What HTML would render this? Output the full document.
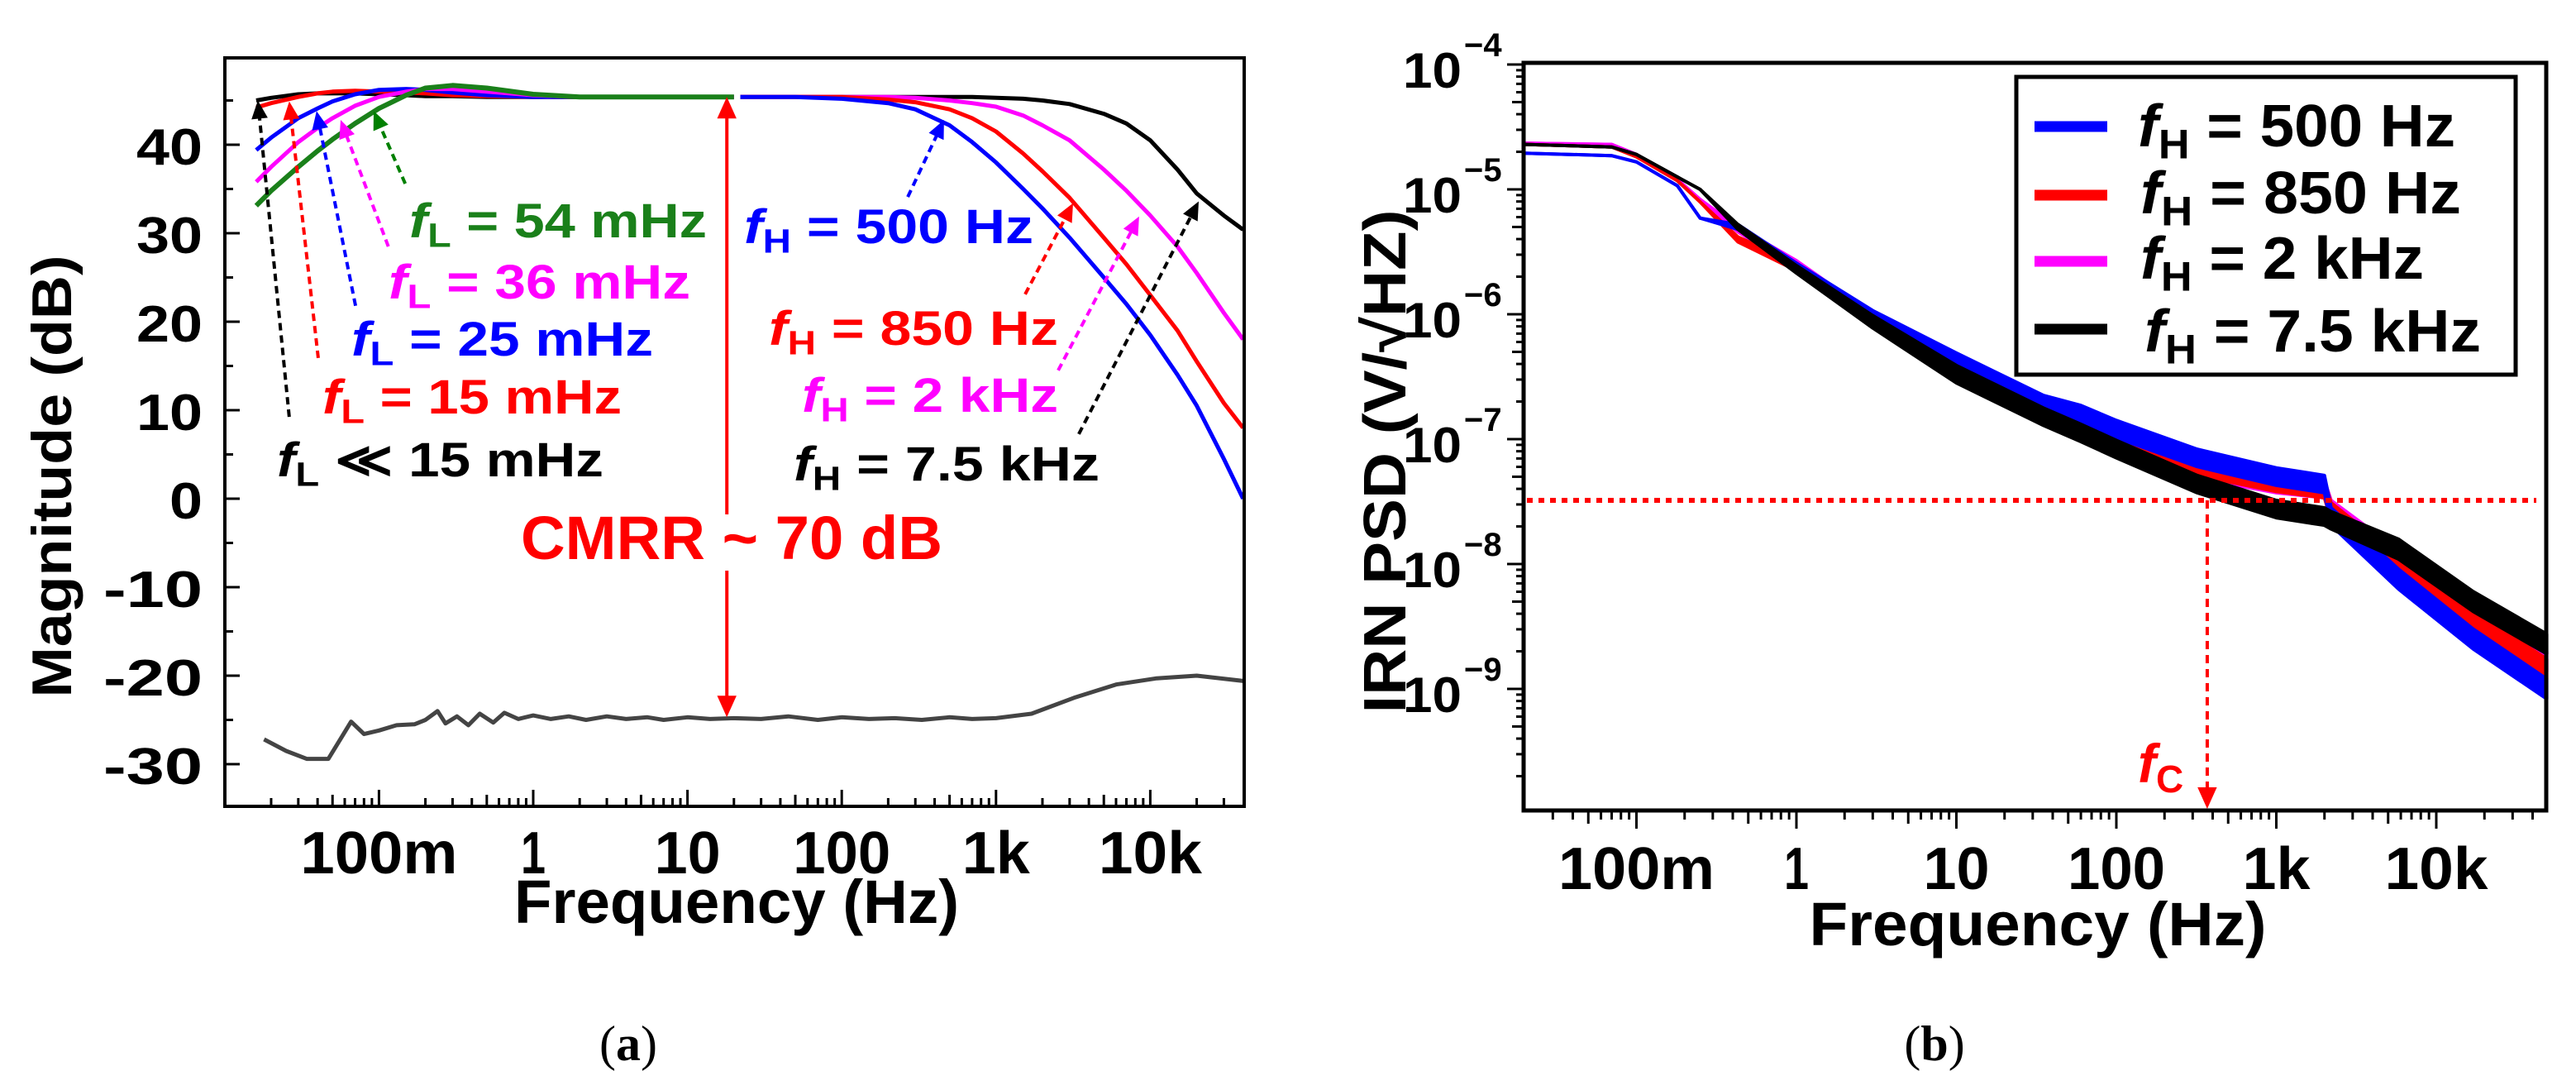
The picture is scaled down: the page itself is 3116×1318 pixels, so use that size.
<!DOCTYPE html>
<html><head><meta charset="utf-8"><style>
html,body{margin:0;padding:0;background:#fff;}
svg{display:block;}
</style></head><body>
<svg id="fig" xmlns="http://www.w3.org/2000/svg" width="3116" height="1318" viewBox="0 0 3116 1318">
<rect x="0" y="0" width="3116" height="1318" fill="#fff"/>
<g id="plotA"></g>
<g id="plotB"></g>
</svg>
<script>
// ===== Panel (a) data =====
const lowFreqs = [0.016,0.02,0.03,0.04,0.05,0.07,0.1,0.15,0.2,0.3,0.5,1,2,5,20];
const lowBlack   = [45.0,45.3,45.7,45.8,45.8,45.8,45.7,45.6,45.5,45.5,45.4,45.4,45.4,45.4,45.4];
const lowRed     = [44.2,44.7,45.4,45.8,46.0,46.1,46.0,45.9,45.8,45.6,45.5,45.4,45.4,45.4,45.4];
const lowBlue    = [39.4,40.8,43.0,44.1,44.9,45.7,46.2,46.3,46.2,45.9,45.6,45.4,45.4,45.4,45.4];
const lowMagenta = [35.8,37.5,40.3,41.9,43.0,44.4,45.4,46.0,46.3,46.3,46.0,45.6,45.4,45.4,45.4];
const lowGreen   = [33.1,34.8,37.5,39.3,40.6,42.4,44.1,45.6,46.4,46.7,46.4,45.7,45.4,45.4,45.4];
const highFreqs = [22,50,100,200,300,500,700,1000,1500,2000,3000,5000,7000,10000,15000,20000,30000,40000];
const highBlue    = [45.4,45.4,45.2,44.7,44.0,42.2,40.3,38.0,35.0,32.8,29.5,25.0,22.0,18.5,14.0,10.5,4.5,0.0];
const highRed     = [45.4,45.4,45.4,45.1,44.8,44.0,43.0,41.5,39.0,37.0,34.0,29.5,26.5,23.0,19.0,15.5,10.8,8.0];
const highMagenta = [45.4,45.4,45.4,45.4,45.3,45.0,44.7,44.3,43.3,42.2,40.5,37.2,34.8,32.0,28.5,25.5,21.0,18.0];
const highBlack   = [45.4,45.4,45.4,45.4,45.4,45.4,45.4,45.3,45.2,45.0,44.6,43.5,42.4,40.5,37.2,34.5,32.0,30.4];
const cmFreqs = [0.018,0.025,0.034,0.047,0.066,0.08,0.1,0.13,0.17,0.2,0.24,0.27,0.32,0.38,0.45,0.55,0.65,0.8,1,1.3,1.7,2.2,3,4,5.5,7,10,14,20,30,45,70,100,150,220,330,500,700,1000,1700,3200,6000,11000,20000,40000];
const cmValues = [-27.2,-28.5,-29.4,-29.4,-25.2,-26.6,-26.2,-25.6,-25.5,-25.0,-24.0,-25.4,-24.6,-25.6,-24.3,-25.3,-24.2,-24.9,-24.5,-24.9,-24.6,-25.0,-24.6,-24.9,-24.7,-25.0,-24.7,-24.9,-24.8,-24.9,-24.6,-25.0,-24.7,-24.9,-24.8,-25.0,-24.7,-24.9,-24.8,-24.3,-22.5,-21.0,-20.3,-20.0,-20.6];
const yTicksA = [-30,-20,-10,0,10,20,30,40];
const xTickValsA = [0.1,1,10,100,1000,10000];
const xTickLabelsA = ["100m","1","10","100","1k","10k"];
const annTailF = [0.0262,0.0404,0.0705,0.115,0.148,268,1545,2530,3440];
const annTailDb = [9.25,15.9,21.8,28.5,35.6,34.1,23.1,14.5,7.3];
const annHeadF = [0.0164,0.0262,0.0394,0.0564,0.0924,460,3160,8470,20600];
const annHeadDb = [45,44.9,43.8,42.8,43.8,42.8,33.4,31.9,33.6];
const annColors = ["#000","#ff0000","#0000ff","#ff00ff","#008000","#0000ff","#ff0000","#ff00ff","#000"];

// ===== Panel (b) data =====
const psdFreqs = [0.02,0.07,0.1,0.18,0.25,0.43,1,3,10,35,60,100,320,1000,2000,2200,5800,17000,49000];
const psdBlue    = [-4.71,-4.73,-4.78,-4.97,-5.23,-5.30,-5.62,-6.02,-6.38,-6.72,-6.80,-6.92,-7.15,-7.30,-7.36,-7.62,-8.12,-8.60,-9.00];
const psdRed     = [-4.64,-4.66,-4.74,-4.93,-5.10,-5.40,-5.62,-6.04,-6.42,-6.76,-6.86,-6.98,-7.22,-7.35,-7.40,-7.58,-8.02,-8.46,-8.84];
const psdMagenta = [-4.63,-4.64,-4.72,-4.92,-5.08,-5.32,-5.60,-6.05,-6.44,-6.80,-6.90,-7.00,-7.24,-7.36,-7.40,-7.56,-7.97,-8.40,-8.78];
const psdBlack   = [-4.64,-4.66,-4.72,-4.90,-5.00,-5.30,-5.64,-6.06,-6.48,-6.82,-6.95,-7.08,-7.36,-7.56,-7.62,-7.65,-7.88,-8.30,-8.64];
const noiseSpread = [0,0,0,0,0,0.02,0.03,0.05,0.07,0.07,0.07,0.07,0.07,0.07,0.07,0.07,0.08,0.08,0.08];
const yTickExpB = [-4,-5,-6,-7,-8,-9];
const xTickValsB = [0.1,1,10,100,1000,10000];
const xTickLabelsB = ["100m","1","10","100","1k","10k"];
const legendLabels = ["500 Hz","850 Hz","2 kHz","7.5 kHz"];
const cornerLevel = -7.49;
const cornerFreq = 370;

const NS = "http://www.w3.org/2000/svg";
const NARROW = "'Liberation Sans Narrow','Liberation Sans',sans-serif";
function mk(tag, attrs, parent){const e=document.createElementNS(NS,tag);for(const k in attrs)e.setAttribute(k,attrs[k]);parent.appendChild(e);return e;}
const A=document.getElementById('plotA');
const B=document.getElementById('plotB');

const xA = f => 645 + 186.6*Math.log10(f);
const yA = db => 603 - 10.7*db;
const AL=272, AR=1505, AT=70, AB=975;
function pathFrom(xs, ys, xf, yf){return xs.map((v,i)=>(i?'L':'M')+xf(v).toFixed(1)+','+yf(ys[i]).toFixed(1)).join(' ');}

const tickGA = mk('g',{},A);


for(let d=-2; d<=4; d++){
  for(let m=1;m<=9;m++){
    const f=m*Math.pow(10,d); const x=xA(f);
    if(x<AL+2||x>AR-2) continue;
    const len = m===1?20:(m===5?14:10);
    mk('line',{x1:x,y1:AB,x2:x,y2:AB-len,stroke:'#000','stroke-width':3},tickGA);
  }
}
for(let v=-35; v<=50; v+=5){
  const y=yA(v); if(y<AT+2||y>AB-2) continue;
  mk('line',{x1:AL,y1:y,x2:AL+(v%10===0?18:10),y2:y,stroke:'#000','stroke-width':3},tickGA);
}
yTicksA.forEach(v=>{
  const w = v<0 ? 120 : (v===0 ? 40 : 80);
  const t=mk('text',{x:245,y:yA(v)+24,'text-anchor':'end','font-family':NARROW,'font-weight':'bold','font-size':62,textLength:w,lengthAdjust:'spacingAndGlyphs'},A);
  
  
  t.textContent = v<0 ? '-'+Math.abs(v) : String(v);
});
xTickValsA.forEach((v,i)=>{
  const lab=xTickLabelsA[i];
  const w = [190,30,80,118,82,125][i];
  const t=mk('text',{x:xA(v),y:1056,'text-anchor':'middle','font-family':NARROW,'font-weight':'bold','font-size':72,textLength:w,lengthAdjust:'spacingAndGlyphs'},A);
  
  
  t.textContent=lab;
});
let tt=mk('text',{x:891,y:1116,'text-anchor':'middle','font-family':NARROW,'font-weight':'bold','font-size':74,textLength:538,lengthAdjust:'spacingAndGlyphs'},A);


tt.textContent='Frequency (Hz)';
tt=mk('text',{x:0,y:0,'text-anchor':'middle','font-family':"'Liberation Sans',sans-serif",'font-weight':'bold','font-size':68,textLength:535,lengthAdjust:'spacingAndGlyphs',transform:'translate(86,576) rotate(-90)'},A);


tt.textContent='Magnitude (dB)';

function curve(parent,xs,ys,color,name,w){
  const p=mk('path',{d:pathFrom(xs,ys,xA,yA),fill:'none',stroke:color,'stroke-width':w||5,'stroke-linejoin':'round'},parent);
  
  
}
curve(A,cmFreqs,cmValues,'#444','common-mode-gain-curve',5);
curve(A,highFreqs,highBlack,'#000','fh-7p5khz-curve');
curve(A,highFreqs,highMagenta,'#ff00ff','fh-2khz-curve');
curve(A,highFreqs,highRed,'#ff0000','fh-850hz-curve');
curve(A,highFreqs,highBlue,'#0000ff','fh-500hz-curve');
curve(A,lowFreqs,lowBlack,'#000','fl-below-15mhz-curve');
curve(A,lowFreqs,lowRed,'#ff0000','fl-15mhz-curve');
curve(A,lowFreqs,lowBlue,'#0000ff','fl-25mhz-curve');
curve(A,lowFreqs,lowMagenta,'#ff00ff','fl-36mhz-curve');
curve(A,lowFreqs,lowGreen,'#1a801a','fl-54mhz-curve',6);

function arrowHead(parent,x1,y1,x2,y2,color,size){
  const a=Math.atan2(y2-y1,x2-x1), s=size||20, w=s*0.45;
  const bx=x2-s*Math.cos(a), by=y2-s*Math.sin(a);
  const pts=[[x2,y2],[bx+w*Math.sin(a),by-w*Math.cos(a)],[bx-w*Math.sin(a),by+w*Math.cos(a)]];
  return mk('polygon',{points:pts.map(p=>p[0].toFixed(1)+','+p[1].toFixed(1)).join(' '),fill:color},parent);
}
annTailF.forEach((f,i)=>{
  const g=mk('g',{},A);
  
  
  const x1=xA(f),y1=yA(annTailDb[i]),x2=xA(annHeadF[i]),y2=yA(annHeadDb[i]);
  const a=Math.atan2(y2-y1,x2-x1);
  mk('line',{x1:x1,y1:y1,x2:x2-18*Math.cos(a),y2:y2-18*Math.sin(a),stroke:annColors[i],'stroke-width':4,'stroke-dasharray':'9 6'},g);
  arrowHead(g,x1,y1,x2,y2,annColors[i],22);
});
const cmx=xA(18);
const cg=mk('g',{},A);


mk('line',{x1:cmx,y1:yA(45.4)+22,x2:cmx,y2:622,stroke:'#ff0000','stroke-width':4},cg);
mk('line',{x1:cmx,y1:690,x2:cmx,y2:yA(-24.7)-22,stroke:'#ff0000','stroke-width':4},cg);
arrowHead(cg,cmx,400,cmx,yA(45.4),'#ff0000',26);
arrowHead(cg,cmx,400,cmx,yA(-24.7),'#ff0000',26);
tt=mk('text',{x:630,y:676,'font-family':NARROW,'font-weight':'bold','font-size':74,fill:'#ff0000',textLength:510,lengthAdjust:'spacingAndGlyphs'},A);


tt.textContent='CMRR ~ 70 dB';

function fLabel(parent,x,y,sub,rest,color,w,size,name){
  const t=mk('text',{x:x,y:y,'font-family':NARROW,'font-weight':'bold','font-size':size,fill:color,textLength:w,lengthAdjust:'spacingAndGlyphs'},parent);
  
  
  const s1=mk('tspan',{'font-style':'italic'},t); s1.textContent='f';
  const s2=mk('tspan',{'font-size':size*0.7,dy:size*0.2}, t); s2.textContent=sub;
  const s3=mk('tspan',{dy:-size*0.2},t); s3.textContent=rest;
  return t;
}
fLabel(A,495,287,'L',' = 54 mHz','#1a801a',360,58,'fl-54mhz-label');
fLabel(A,470,361,'L',' = 36 mHz','#ff00ff',365,58,'fl-36mhz-label');
fLabel(A,425,430,'L',' = 25 mHz','#0000ff',365,58,'fl-25mhz-label');
fLabel(A,390,500,'L',' = 15 mHz','#ff0000',362,58,'fl-15mhz-label');
fLabel(A,335,576,'L',' \u226A 15 mHz','#000',395,58,'fl-below-15mhz-label');
fLabel(A,900,294,'H',' = 500 Hz','#0000ff',350,58,'fh-500hz-label');
fLabel(A,930,417,'H',' = 850 Hz','#ff0000',350,58,'fh-850hz-label');
fLabel(A,970,498,'H',' = 2 kHz','#ff00ff',310,58,'fh-2khz-label');
fLabel(A,960,581,'H',' = 7.5 kHz','#000',370,58,'fh-7p5khz-label');

let fr=mk('rect',{x:AL,y:AT,width:AR-AL,height:AB-AT,fill:'none',stroke:'#000','stroke-width':4},A);


tt=mk('text',{x:760,y:1282,'text-anchor':'middle','font-family':"'Liberation Serif',serif",'font-size':60},A);


tt.innerHTML='(<tspan font-weight="bold">a</tspan>)';

// ===== Panel B =====
const xB = f => 2173 + 193.5*Math.log10(f);
const yB = lg => 78 + 151*(-4-lg);
const BL=1843, BR=3080, BT=76, BB=980;
const tickGB=mk('g',{},B);


for(let d=-2; d<=4; d++){
  for(let m=1;m<=9;m++){
    const f=m*Math.pow(10,d); const x=xB(f);
    if(x<BL+2||x>BR+1) continue;
    const len = m===1?22:(m===5?16:11);
    mk('line',{x1:x,y1:BB,x2:x,y2:BB+len,stroke:'#000','stroke-width':3},tickGB);
  }
}
for(let d=-10; d<=-4; d++){
  for(let m=1;m<=9;m++){
    const lg=d+Math.log10(m); const y=yB(lg);
    if(y<BT-2||y>BB-2) continue;
    const len = m===1?20:(m===5?14:9);
    mk('line',{x1:BL,y1:y,x2:BL-len,y2:y,stroke:'#000','stroke-width':3},tickGB);
  }
}
yTickExpB.forEach(e=>{
  const y=yB(e);
  const t=mk('text',{x:1697,y:y+28,'font-family':NARROW,'font-weight':'bold','font-size':60,textLength:71,lengthAdjust:'spacingAndGlyphs'},B);
  
  
  t.textContent='10';
  const s=mk('text',{x:1771,y:y-10,'font-family':NARROW,'font-weight':'bold','font-size':40},B);
  
  
  s.textContent='\u2212'+Math.abs(e);
});
xTickValsB.forEach((v,i)=>{
  const w=[189,30,80,118,82,125][i];
  const t=mk('text',{x:xB(v),y:1075,'text-anchor':'middle','font-family':NARROW,'font-weight':'bold','font-size':72,textLength:w,lengthAdjust:'spacingAndGlyphs'},B);
  
  
  t.textContent=xTickLabelsB[i];
});
tt=mk('text',{x:2465,y:1143,'text-anchor':'middle','font-family':NARROW,'font-weight':'bold','font-size':74,textLength:553,lengthAdjust:'spacingAndGlyphs'},B);


tt.textContent='Frequency (Hz)';
tt=mk('text',{x:0,y:0,'text-anchor':'middle','font-family':"'Liberation Sans',sans-serif",'font-weight':'bold','font-size':72,textLength:609,lengthAdjust:'spacingAndGlyphs',transform:'translate(1700,558) rotate(-90)'},B);


tt.textContent='IRN PSD (V/\u221AHZ)';

function psd(vals,color,name){
  const g=mk('g',{},B);
  
  
  const up=psdFreqs.map((f,i)=>xB(f).toFixed(1)+','+yB(vals[i]+noiseSpread[i]).toFixed(1));
  const dn=psdFreqs.map((f,i)=>xB(f).toFixed(1)+','+yB(vals[i]-noiseSpread[i]).toFixed(1)).reverse();
  mk('polygon',{points:up.concat(dn).join(' '),fill:color,stroke:color,'stroke-width':4,'stroke-linejoin':'round'},g);
  mk('path',{d:pathFrom(psdFreqs,vals,xB,yB),fill:'none',stroke:color,'stroke-width':4},g);
}
psd(psdMagenta,'#ff00ff','psd-fh-2khz');
psd(psdRed,'#ff0000','psd-fh-850hz');
psd(psdBlue,'#0000ff','psd-fh-500hz');
psd(psdBlack,'#000000','psd-fh-7p5khz');

const cl=mk('g',{},B);


mk('line',{x1:BL+4,y1:yB(cornerLevel),x2:3068,y2:yB(cornerLevel),stroke:'#ff0000','stroke-width':6,'stroke-dasharray':'7 7'},cl);
mk('line',{x1:xB(cornerFreq),y1:yB(cornerLevel),x2:xB(cornerFreq),y2:BB-24,stroke:'#ff0000','stroke-width':4,'stroke-dasharray':'10 7'},cl);
arrowHead(cl,xB(cornerFreq),700,xB(cornerFreq),BB-2,'#ff0000',26);
tt=mk('text',{x:2586,y:946,'font-family':NARROW,'font-weight':'bold','font-size':66,fill:'#ff0000'},B);


tt.innerHTML='<tspan font-style="italic">f</tspan><tspan font-size="46" dy="12">C</tspan>';

const lg=mk('g',{},B);


mk('rect',{x:2439,y:93,width:604,height:360,fill:'#fff',stroke:'#000','stroke-width':5},lg);
const legColors=['#0000ff','#ff0000','#ff00ff','#000'];
const legY=[153,236,316,398], legBase=[177,258,337,425], legW=[384,388,343,407], legX=[2586,2589,2589,2594];
legendLabels.forEach((lab,i)=>{
  const sw=mk('line',{x1:2461,y1:legY[i],x2:2549,y2:legY[i],stroke:legColors[i],'stroke-width':13},lg);
  
  
  fLabel(lg,legX[i],legBase[i],'H',' = '+lab,'#000',legW[i],72,'legend-entry');
});

fr=mk('rect',{x:BL,y:BT,width:BR-BL,height:BB-BT,fill:'none',stroke:'#000','stroke-width':5},B);


tt=mk('text',{x:2340,y:1282,'text-anchor':'middle','font-family':"'Liberation Serif',serif",'font-size':60},B);


tt.innerHTML='(<tspan font-weight="bold">b</tspan>)';
</script>
</body></html>
